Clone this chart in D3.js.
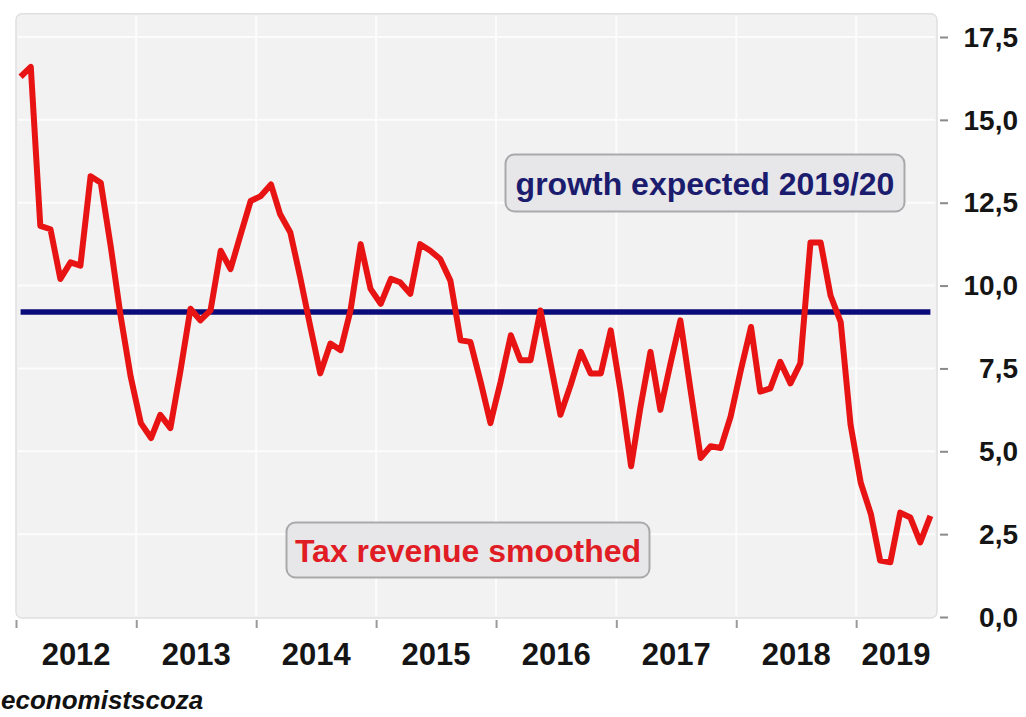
<!DOCTYPE html>
<html>
<head>
<meta charset="utf-8">
<script src="https://cdn.jsdelivr.net/npm/d3@7"></script>
<style>
  body { margin: 0; background: #fff; }
  svg { display: block; font-family: "Liberation Sans", Arial, sans-serif; }
</style>
</head>
<body>
<svg id="chart" width="1026" height="717"></svg>
<script>
// monthly, Jan 2012 .. Aug 2019 (% y/y, smoothed)
const startYear = 2012;
const taxRevenue = [
  16.3, 16.6, 11.8, 11.7, 10.2, 10.7, 10.6, 13.3, 13.1, 11.2, 9.05, 7.25,
  5.85, 5.4, 6.1, 5.7, 7.4, 9.3, 8.95, 9.25, 11.05, 10.5, 11.55, 12.55,
  12.7, 13.05, 12.15, 11.6, 10.25, 8.75, 7.35, 8.25, 8.05, 9.25, 11.25, 9.9,
  9.45, 10.2, 10.1, 9.75, 11.25, 11.05, 10.8, 10.15, 8.35, 8.3, 7.1, 5.85,
  7.1, 8.5, 7.75, 7.75, 9.25, 7.65, 6.1, 7.0, 8.0, 7.35, 7.35, 8.65,
  6.75, 4.55, 6.3, 8.0, 6.25, 7.65, 8.95, 6.85, 4.8, 5.15, 5.1, 6.05,
  7.45, 8.75, 6.8, 6.9, 7.7, 7.05, 7.65, 11.3, 11.3, 9.7, 8.9, 5.8,
  4.05, 3.1, 1.7, 1.65, 3.15, 3.0, 2.25, 3.05
];
const growthExpected = 9.2;
const yTicks = [0, 2.5, 5, 7.5, 10, 12.5, 15, 17.5];
const years = [2012, 2013, 2014, 2015, 2016, 2017, 2018, 2019];
const taxLabel = 'Tax revenue smoothed';
const growthLabel = 'growth expected 2019/20';
const sourceLabel = 'economistscoza';

const dates = taxRevenue.map((d, i) => new Date(startYear, i, 15));
const endDate = new Date(2019, 8, 1);

const svg = d3.select('#chart');

const x = d3.scaleTime()
  .domain([new Date(startYear, 0, 1), endDate])
  .range([16, 936]);

const y = d3.scaleLinear()
  .domain([0, 17.5])
  .range([617, 37]);

const fmt = d3.formatLocale({ decimal: ',', thousands: '.', grouping: [3], currency: ['', ''] }).format('.1f');

// panel
const panelTop = y(18.2);
svg.append('rect')
  .attr('x', x.range()[0])
  .attr('y', panelTop)
  .attr('width', x.range()[1] - x.range()[0] + 1)
  .attr('height', y(0) - panelTop + 1)
  .attr('rx', 6)
  .attr('fill', '#f2f2f3')
  .attr('stroke', '#e0e0e2')
  .attr('stroke-width', 1.5);

// grid (faint)
const yearStarts = years.map(yr => new Date(yr, 0, 1));
svg.append('g')
  .selectAll('line')
  .data(yTicks.filter(t => t > 0))
  .enter().append('line')
  .attr('x1', x.range()[0] + 2).attr('x2', x.range()[1] - 1)
  .attr('y1', d => y(d)).attr('y2', d => y(d))
  .attr('stroke', '#fcfcfc').attr('stroke-width', 2);

svg.append('g')
  .selectAll('line')
  .data(yearStarts.slice(1))
  .enter().append('line')
  .attr('x1', d => x(d)).attr('x2', d => x(d))
  .attr('y1', panelTop + 2).attr('y2', y(0) - 1)
  .attr('stroke', '#fcfcfc').attr('stroke-width', 2);

// axes
const yAxis = svg.append('g')
  .attr('transform', 'translate(940,0)')
  .call(d3.axisRight(y).tickValues(yTicks).tickSize(8).tickFormat(fmt));
yAxis.select('.domain').remove();
yAxis.selectAll('.tick line').attr('stroke', '#8a8a8a').attr('stroke-width', 2);
yAxis.selectAll('.tick text')
  .attr('x', 78)
  .attr('text-anchor', 'end')
  .attr('dy', '0.33em')
  .attr('fill', '#151515')
  .style('font-size', '28px')
  .style('font-weight', 'bold')
  .style('font-family', '"Liberation Sans", Arial, sans-serif');

const xAxis = svg.append('g')
  .attr('transform', 'translate(0,620)')
  .call(d3.axisBottom(x).tickValues(yearStarts).tickSize(8).tickFormat(''));
xAxis.select('.domain').remove();
xAxis.selectAll('.tick line').attr('stroke', '#9a9a9a').attr('stroke-width', 2);

svg.append('g')
  .selectAll('text')
  .data(years)
  .enter().append('text')
  .attr('x', yr => {
    const a = x(new Date(yr, 0, 1));
    const b = x(d3.min([new Date(yr + 1, 0, 1), endDate]));
    return (a + b) / 2;
  })
  .attr('y', 665)
  .attr('text-anchor', 'middle')
  .attr('fill', '#151515')
  .style('font-size', '31px')
  .style('font-weight', 'bold')
  .text(d => d);

// series
const line = d3.line()
  .x((d, i) => x(dates[i]))
  .y(d => y(d));

svg.append('path')
  .datum([growthExpected, growthExpected])
  .attr('d', d3.line()
    .x((d, i) => x(i === 0 ? dates[0] : dates[dates.length - 1]))
    .y(d => y(d)))
  .attr('fill', 'none')
  .attr('stroke', '#0b0b7a')
  .attr('stroke-width', 5.5);

svg.append('path')
  .datum(taxRevenue)
  .attr('d', line)
  .attr('fill', 'none')
  .attr('stroke', '#e81414')
  .attr('stroke-width', 6)
  .attr('stroke-linejoin', 'round');

// labels
function labelBox(text, cx, cy, w, h, color) {
  const g = svg.append('g');
  g.append('rect')
    .attr('x', cx - w / 2).attr('y', cy - h / 2)
    .attr('width', w).attr('height', h)
    .attr('rx', 9)
    .attr('fill', '#e7e7ea')
    .attr('stroke', '#a9a9ac')
    .attr('stroke-width', 2);
  g.append('text')
    .attr('x', cx).attr('y', cy)
    .attr('dy', '0.36em')
    .attr('text-anchor', 'middle')
    .attr('fill', color)
    .style('font-size', '32px')
    .style('font-weight', 'bold')
    .text(text);
}
labelBox(growthLabel, 705, 183, 399, 57, '#1c1c6e');
labelBox(taxLabel, 468, 550, 363, 55, '#e01c24');

svg.append('text')
  .attr('x', 1)
  .attr('y', 709)
  .attr('fill', '#111')
  .style('font-size', '26px')
  .style('font-weight', 'bold')
  .style('font-style', 'italic')
  .text(sourceLabel);
</script>
</body>
</html>
